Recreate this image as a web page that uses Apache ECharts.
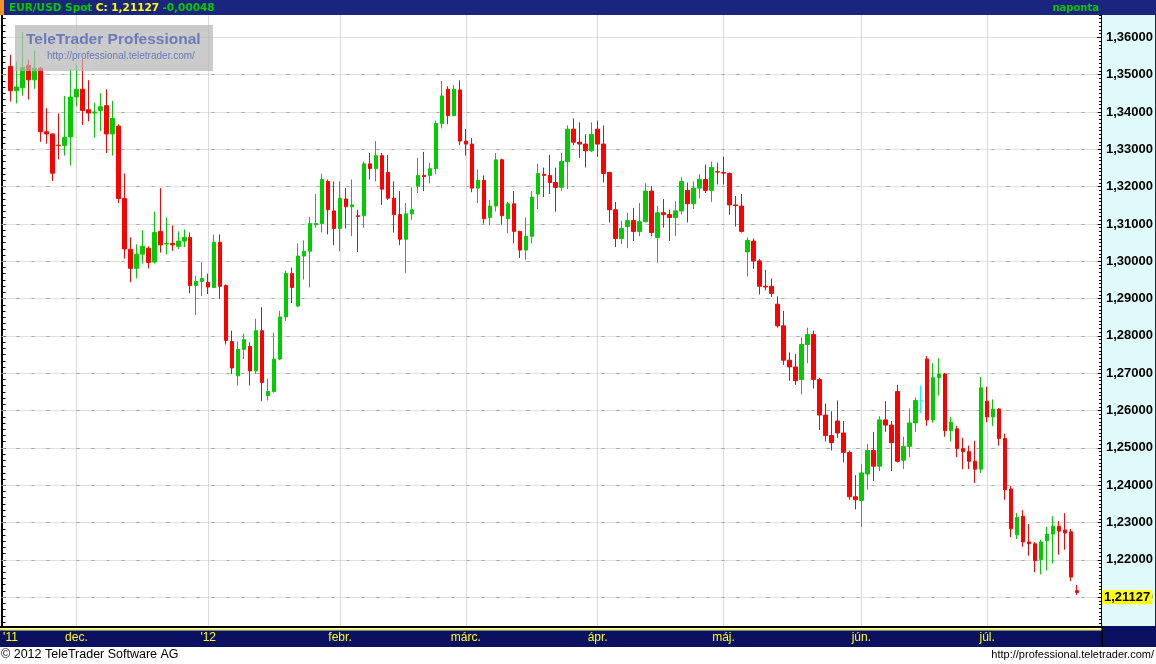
<!DOCTYPE html>
<html>
<head>
<meta charset="utf-8">
<script src="https://cdn.jsdelivr.net/npm/echarts@6/dist/echarts.min.js"></script>
<style>
html,body{margin:0;padding:0;background:#fff;}
#chart{width:1156px;height:664px;}
</style>
</head>
<body>
<div id="chart"></div>
<script>
// ---- DATA (EUR/USD daily, 2011-11-16 .. 2012-07-23) ----
const opens = [
1.3522,1.3457,1.3465,1.3525,1.3486,1.3517,1.3347,1.3341,1.3311,1.3310,
1.3333,1.3440,1.3461,1.3406,1.3397,1.3404,1.3417,1.3341,1.3362,1.3168,
1.3032,1.2981,1.3019,1.3035,1.2998,1.3080,1.3046,1.3048,1.3040,1.3054,
1.3064,1.2935,1.2946,1.2943,1.2930,1.3051,1.2935,1.2785,1.2693,1.2764,
1.2772,1.2706,1.2814,1.2640,1.2651,1.2738,1.2851,1.2967,1.2880,1.3014,
1.3027,1.3098,1.3101,1.3214,1.3135,1.3088,1.3167,1.3146,1.3122,1.3122,
1.3261,1.3248,1.3283,1.3238,1.3169,1.3125,1.3059,1.3127,1.3201,1.3230,
1.3230,1.3248,1.3369,1.3461,1.3390,1.3459,1.3322,1.3314,1.3196,1.3217,
1.3117,1.3148,1.3272,1.3114,1.3154,1.3080,1.3030,1.3067,1.3180,1.3233,
1.3230,1.3211,1.3198,1.3267,1.3354,1.3319,1.3314,1.3296,1.3354,1.3314,
1.3238,1.3138,1.3061,1.3093,1.3109,1.3080,1.3106,1.3188,1.3064,1.3130,
1.3125,1.3117,1.3135,1.3190,1.3154,1.3196,1.3219,1.3190,1.3240,1.3238,
1.3235,1.3151,1.3148,1.3025,1.3054,1.3001,1.2933,1.2933,1.2885,1.2827,
1.2735,1.2717,1.2683,1.2777,1.2804,1.2683,1.2588,1.2533,1.2572,1.2540,
1.2488,1.2369,1.2359,1.2430,1.2493,1.2451,1.2575,1.2561,1.2651,1.2467,
1.2504,1.2567,1.2626,1.2738,1.2575,1.2688,1.2698,1.2546,1.2551,1.2498,
1.2490,1.2464,1.2443,1.2625,1.2583,1.2604,1.2525,1.2390,1.2267,1.2317,
1.2248,1.2243,1.2201,1.2251,1.2269,1.2290,1.2280,1.2275,1.21175
];
const highs = [
1.3553,1.3535,1.3614,1.3540,1.3563,1.3520,1.3410,1.3342,1.3396,1.3443,
1.3515,1.3525,1.3542,1.3485,1.3425,1.3450,1.3461,1.3430,1.3367,1.3235,
1.3064,1.3045,1.3083,1.3040,1.3133,1.3196,1.3117,1.3096,1.3080,1.3085,
1.3077,1.2961,1.2998,1.2967,1.3072,1.3072,1.2938,1.2814,1.2785,1.2806,
1.2783,1.2846,1.2877,1.2685,1.2809,1.2867,1.2975,1.2983,1.3048,1.3056,
1.3119,1.3180,1.3235,1.3219,1.3214,1.3214,1.3196,1.3219,1.3138,1.3267,
1.3290,1.3322,1.3290,1.3285,1.3214,1.3188,1.3156,1.3198,1.3277,1.3293,
1.3264,1.3377,1.3483,1.3469,1.3472,1.3485,1.3354,1.3330,1.3246,1.3230,
1.3164,1.3290,1.3275,1.3159,1.3188,1.3082,1.3117,1.3188,1.3261,1.3251,
1.3285,1.3251,1.3290,1.3364,1.3383,1.3372,1.3340,1.3372,1.3377,1.3364,
1.3240,1.3159,1.3109,1.3130,1.3143,1.3156,1.3209,1.3201,1.3148,1.3167,
1.3138,1.3161,1.3225,1.3211,1.3214,1.3233,1.3259,1.3267,1.3264,1.3280,
1.3238,1.3175,1.3180,1.3064,1.3061,1.3006,1.2977,1.2954,1.2906,1.2867,
1.2756,1.2751,1.2796,1.2822,1.2814,1.2688,1.2619,1.2598,1.2627,1.2572,
1.2493,1.2427,1.2456,1.2511,1.2543,1.2585,1.2625,1.2572,1.2669,1.2530,
1.2606,1.2635,1.2667,1.2746,1.2727,1.2740,1.2701,1.2583,1.2559,1.2527,
1.2506,1.2519,1.2690,1.2664,1.2630,1.2606,1.2538,1.2398,1.2325,1.2333,
1.2296,1.2248,1.2254,1.2288,1.2317,1.2304,1.2325,1.2283,1.2133
];
const lows = [
1.3428,1.3423,1.3444,1.3433,1.3462,1.3320,1.3315,1.3215,1.3273,1.3283,
1.3257,1.3415,1.3365,1.3375,1.3331,1.3349,1.3290,1.3283,1.3156,1.3007,
1.2944,1.2954,1.2994,1.2981,1.2994,1.3023,1.3018,1.3028,1.3033,1.3038,
1.2914,1.2856,1.2907,1.2912,1.2928,1.2899,1.2777,1.2698,1.2667,1.2738,
1.2667,1.2698,1.2625,1.2627,1.2648,1.2735,1.2840,1.2888,1.2877,1.2951,
1.2930,1.3090,1.3077,1.3072,1.3043,1.3027,1.3088,1.3067,1.3025,1.3090,
1.3219,1.3214,1.3151,1.3164,1.3077,1.3043,1.2969,1.3111,1.3183,1.3188,
1.3209,1.3233,1.3356,1.3367,1.3389,1.3311,1.3283,1.3185,1.3156,1.3101,
1.3096,1.3133,1.3098,1.3075,1.3048,1.3009,1.3004,1.3048,1.3140,1.3172,
1.3180,1.3133,1.3188,1.3193,1.3311,1.3277,1.3251,1.3293,1.3280,1.3211,
1.3104,1.3038,1.3046,1.3035,1.3054,1.3067,1.3104,1.3067,1.2996,1.3090,
1.3054,1.3067,1.3125,1.3104,1.3140,1.3169,1.3183,1.3159,1.3206,1.3206,
1.3125,1.3093,1.3077,1.2959,1.2980,1.2911,1.2922,1.2904,1.2822,1.2722,
1.2680,1.2669,1.2643,1.2727,1.2659,1.2548,1.2517,1.2493,1.2527,1.2461,
1.2361,1.2335,1.2288,1.2388,1.2411,1.2438,1.2543,1.2438,1.2461,1.2443,
1.2475,1.2543,1.2593,1.2559,1.2567,1.2640,1.2530,1.2517,1.2475,1.2443,
1.2443,1.2406,1.2433,1.2569,1.2559,1.2506,1.2361,1.2261,1.2256,1.2235,
1.2211,1.2167,1.2161,1.2172,1.2190,1.2214,1.2227,1.2143,1.2106
];
const closes = [
1.3457,1.3467,1.3519,1.3486,1.3517,1.3347,1.3341,1.3236,1.3310,1.3332,
1.3440,1.3461,1.3404,1.3397,1.3400,1.3414,1.3341,1.3383,1.3168,1.3033,
1.2981,1.3019,1.3040,1.2997,1.3077,1.3044,1.3048,1.3044,1.3054,1.3064,
1.2935,1.2946,1.2954,1.2931,1.3051,1.2933,1.2788,1.2714,1.2764,1.2790,
1.2706,1.2814,1.2675,1.2651,1.2738,1.2851,1.2967,1.2930,1.3014,1.3027,
1.3101,1.3101,1.3219,1.3138,1.3088,1.3169,1.3146,1.3151,1.3120,1.3261,
1.3248,1.3283,1.3193,1.3169,1.3125,1.3059,1.3127,1.3138,1.3230,1.3227,
1.3248,1.3369,1.3443,1.3390,1.3461,1.3322,1.3314,1.3196,1.3217,1.3114,
1.3148,1.3272,1.3122,1.3154,1.3080,1.3030,1.3067,1.3172,1.3235,1.3230,
1.3211,1.3198,1.3267,1.3354,1.3319,1.3314,1.3296,1.3340,1.3314,1.3235,
1.3138,1.3061,1.3088,1.3109,1.3080,1.3106,1.3188,1.3077,1.3130,1.3125,
1.3117,1.3135,1.3214,1.3154,1.3196,1.3219,1.3190,1.3251,1.3239,1.3236,
1.3151,1.3149,1.3080,1.3056,1.3001,1.2933,1.2931,1.2914,1.2827,1.2735,
1.2717,1.2680,1.2777,1.2804,1.2683,1.2588,1.2533,1.2514,1.2540,1.2488,
1.2369,1.2361,1.2433,1.2493,1.2451,1.2575,1.2561,1.2514,1.2464,1.2504,
1.2567,1.2627,1.2626,1.2575,1.2688,1.2698,1.2546,1.2569,1.2498,1.2490,
1.2464,1.2443,1.2661,1.2583,1.2604,1.2525,1.2388,1.2283,1.2314,1.2248,
1.2243,1.2198,1.2248,1.2269,1.2290,1.2277,1.2272,1.2154,1.21127
];
const monthLabels = ["'11", "dec.", "'12", "febr.", "márc.", "ápr.", "máj.", "jún.", "júl."];
const halfLevels = [1.205,1.215,1.225,1.235,1.245,1.255,1.265,1.275,1.285,1.295,1.305,1.315,1.325,1.335,1.345,1.355];
const dojiIndex = 152;

// trading-day categories (weekdays from 2011-11-16)
const dates = [];
{
  const d = new Date(Date.UTC(2011, 10, 16));
  while (dates.length < closes.length) {
    const wd = d.getUTCDay();
    if (wd !== 0 && wd !== 6) {
      const mm = String(d.getUTCMonth() + 1).padStart(2, '0');
      const dd = String(d.getUTCDate()).padStart(2, '0');
      dates.push(d.getUTCFullYear() + '-' + mm + '-' + dd);
    }
    d.setUTCDate(d.getUTCDate() + 1);
  }
}
const PAD_L = 1, PAD_R = 3;
const cats = [];
for (let i = 0; i < PAD_L; i++) cats.push('pl' + i);
dates.forEach(d => cats.push(d));
for (let i = 0; i < PAD_R; i++) cats.push('pr' + i);

// month start category indices
const labelMap = {};
const monthStartCats = [];
{
  let m = 0, prev = null;
  dates.forEach((d, i) => {
    const ym = d.slice(0, 7);
    if (ym !== prev) {
      labelMap[i + PAD_L] = monthLabels[m++];
      if (prev !== null) monthStartCats.push(cats[i + PAD_L]);
      prev = ym;
    }
  });
}

const candleData = [];
for (let i = 0; i < PAD_L; i++) candleData.push(['-', '-', '-', '-']);
closes.forEach((c, i) => {
  const v = [opens[i], c, lows[i], highs[i]];
  if (i === dojiIndex) {
    candleData.push({ value: v, itemStyle: { color: '#00ffff', color0: '#00ffff', borderColor: '#00ffff', borderColor0: '#00ffff', borderColorDoji: '#00ffff' } });
  } else candleData.push(v);
});
for (let i = 0; i < PAD_R; i++) candleData.push(['-', '-', '-', '-']);

const fmt = v => v.toFixed(5).replace('.', ',');
const last = closes.length - 1;
const lastClose = closes[last];
const change = closes[last] - opens[last];

const gridMarks = [];
monthStartCats.forEach(c => gridMarks.push({ xAxis: c, lineStyle: { color: '#b8b8b8', type: [1, 1], width: 1 } }));
halfLevels.forEach(v => gridMarks.push({ yAxis: v, lineStyle: { color: '#a8a8a8', type: [3, 12], width: 1 } }));

const chart = echarts.init(document.getElementById('chart'), null, { renderer: 'canvas' });
chart.setOption({
  animation: false,
  backgroundColor: '#ffffff',
  grid: { left: 1.5, top: -11.5, width: 1098, height: 646, containLabel: false },
  xAxis: {
    type: 'category', data: cats, boundaryGap: true, z: 20,
    axisLine: { show: false }, axisTick: { show: false }, splitLine: { show: false },
    axisLabel: {
      interval: (i) => labelMap[i] !== undefined,
      formatter: (v, i) => labelMap[i] || '',
      color: '#ffff00', fontSize: 12, fontFamily: 'Liberation Sans', margin: -3
    }
  },
  yAxis: [
    {
      type: 'value', position: 'right', min: 1.20, max: 1.37, interval: 0.01, offset: 3,
      axisLine: { show: true, lineStyle: { color: '#000', width: 1 } },
      axisTick: { show: true, inside: true, length: 4, lineStyle: { color: '#000' } },
      minorTick: { show: true, splitNumber: 10, length: 2, lineStyle: { color: '#000' } },
      axisLabel: {
        showMinLabel: false, showMaxLabel: false, formatter: fmt,
        color: '#000', fontWeight: 'bold', fontSize: 13, fontFamily: 'Liberation Sans', margin: 5
      },
      splitLine: { show: true, lineStyle: { color: '#c0c0c0', type: [1, 1], width: 1 } }
    },
    {
      type: 'value', position: 'left', min: 1.20, max: 1.37, interval: 0.01,
      axisLine: { show: true, lineStyle: { color: '#000', width: 2 } },
      axisTick: { show: true, inside: true, length: 4, lineStyle: { color: '#000' } },
      minorTick: { show: true, splitNumber: 6, length: 4, lineStyle: { color: '#000' } },
      axisLabel: { show: false }, splitLine: { show: false }
    }
  ],
  series: [
    {
      type: 'line', data: [], silent: true, z: 1,
      markLine: { silent: true, z: 1, symbol: ['none', 'none'], label: { show: false }, data: gridMarks }
    },
    {
      type: 'candlestick', data: candleData, barWidth: 4, z: 2,
      itemStyle: { color: '#00cc00', color0: '#ff0000', borderColor: '#00cc00', borderColor0: '#ff0000', borderWidth: 1 },
      markLine: {
        silent: true, z: 6, symbol: ['none', 'none'],
        lineStyle: { color: 'rgba(0,0,0,0)', width: 1 },
        label: {
          show: true, position: 'end', distance: 4, formatter: fmt(lastClose),
          backgroundColor: '#ffff00', color: '#000', fontWeight: 'bold', fontSize: 13,
          fontFamily: 'Liberation Sans', padding: [1, 2, 0, 2]
        },
        data: [{ yAxis: lastClose }]
      }
    }
  ],
  graphic: {
    elements: [
      { type: 'rect', silent: true, z: -10, shape: { x: 1102, y: 15, width: 54, height: 611 }, style: { fill: '#e0fafa' } },
      { type: 'rect', silent: true, z: 10, shape: { x: 1155, y: 15, width: 1, height: 611 }, style: { fill: '#1a267e' } },
      // header
      { type: 'rect', silent: true, z: 10, shape: { x: 0, y: 0, width: 1156, height: 15 }, style: { fill: '#1a267e' } },
      { type: 'rect', silent: true, z: 11, shape: { x: 0, y: 0, width: 4, height: 15 }, style: { fill: '#f7931e' } },
      {
        type: 'text', silent: true, z: 11, x: 9, y: 8,
        style: {
          text: '{g|EUR/USD Spot} {y|C: ' + fmt(lastClose) + '} {g|' + fmt(change) + '}',
          verticalAlign: 'middle', align: 'left',
          rich: {
            g: { fill: '#00cc00', font: 'bold 10.5px "DejaVu Sans"' },
            y: { fill: '#ffff00', font: 'bold 10.5px "DejaVu Sans"' }
          }
        }
      },
      { type: 'text', silent: true, z: 11, x: 1099, y: 8, style: { text: 'naponta', fill: '#00cc00', font: 'bold 10px "DejaVu Sans"', align: 'right', verticalAlign: 'middle' } },
      // bottom axis band
      { type: 'rect', silent: true, z: 10, shape: { x: 0, y: 626, width: 1156, height: 2 }, style: { fill: '#000' } },
      { type: 'rect', silent: true, z: 10, shape: { x: 0, y: 628, width: 1156, height: 1 }, style: { fill: '#fff' } },
      { type: 'rect', silent: true, z: 10, shape: { x: 0, y: 629, width: 1156, height: 1.5 }, style: { fill: '#ffff00' } },
      { type: 'rect', silent: true, z: 10, shape: { x: 0, y: 630.5, width: 1156, height: 16.5 }, style: { fill: '#0b1060' } },
      { type: 'rect', silent: true, z: 11, shape: { x: 1102, y: 626, width: 54, height: 21 }, style: { fill: '#0b1060' } },
      { type: 'rect', silent: true, z: 11, shape: { x: 1101.5, y: 626, width: 1.5, height: 21 }, style: { fill: '#000' } },
      { type: 'rect', silent: true, z: 10, shape: { x: 0, y: 647, width: 1156, height: 17 }, style: { fill: '#fff' } },
      // footer
      { type: 'text', silent: true, z: 11, x: 1, y: 655, style: { text: '© 2012 TeleTrader Software AG', fill: '#000', font: '12.5px "Liberation Sans"', align: 'left', verticalAlign: 'middle' } },
      { type: 'text', silent: true, z: 11, x: 1154, y: 655, style: { text: 'http://professional.teletrader.com/', fill: '#000', font: '11px "Liberation Sans"', align: 'right', verticalAlign: 'middle' } },
      // watermark
      { type: 'rect', silent: true, z: 8, shape: { x: 15, y: 25, width: 198, height: 46 }, style: { fill: 'rgba(181,181,181,0.7)' } },
      { type: 'text', silent: true, z: 9, x: 26, y: 40, style: { text: 'TeleTrader Professional', fill: '#6b7ab8', font: 'bold 15.5px "Liberation Sans"', align: 'left', verticalAlign: 'middle' } },
      { type: 'text', silent: true, z: 9, x: 47, y: 56.5, style: { text: 'http://professional.teletrader.com/', fill: '#6b7ab8', font: '10px "Liberation Sans"', align: 'left', verticalAlign: 'middle' } }
    ]
  }
});
</script>
</body>
</html>
